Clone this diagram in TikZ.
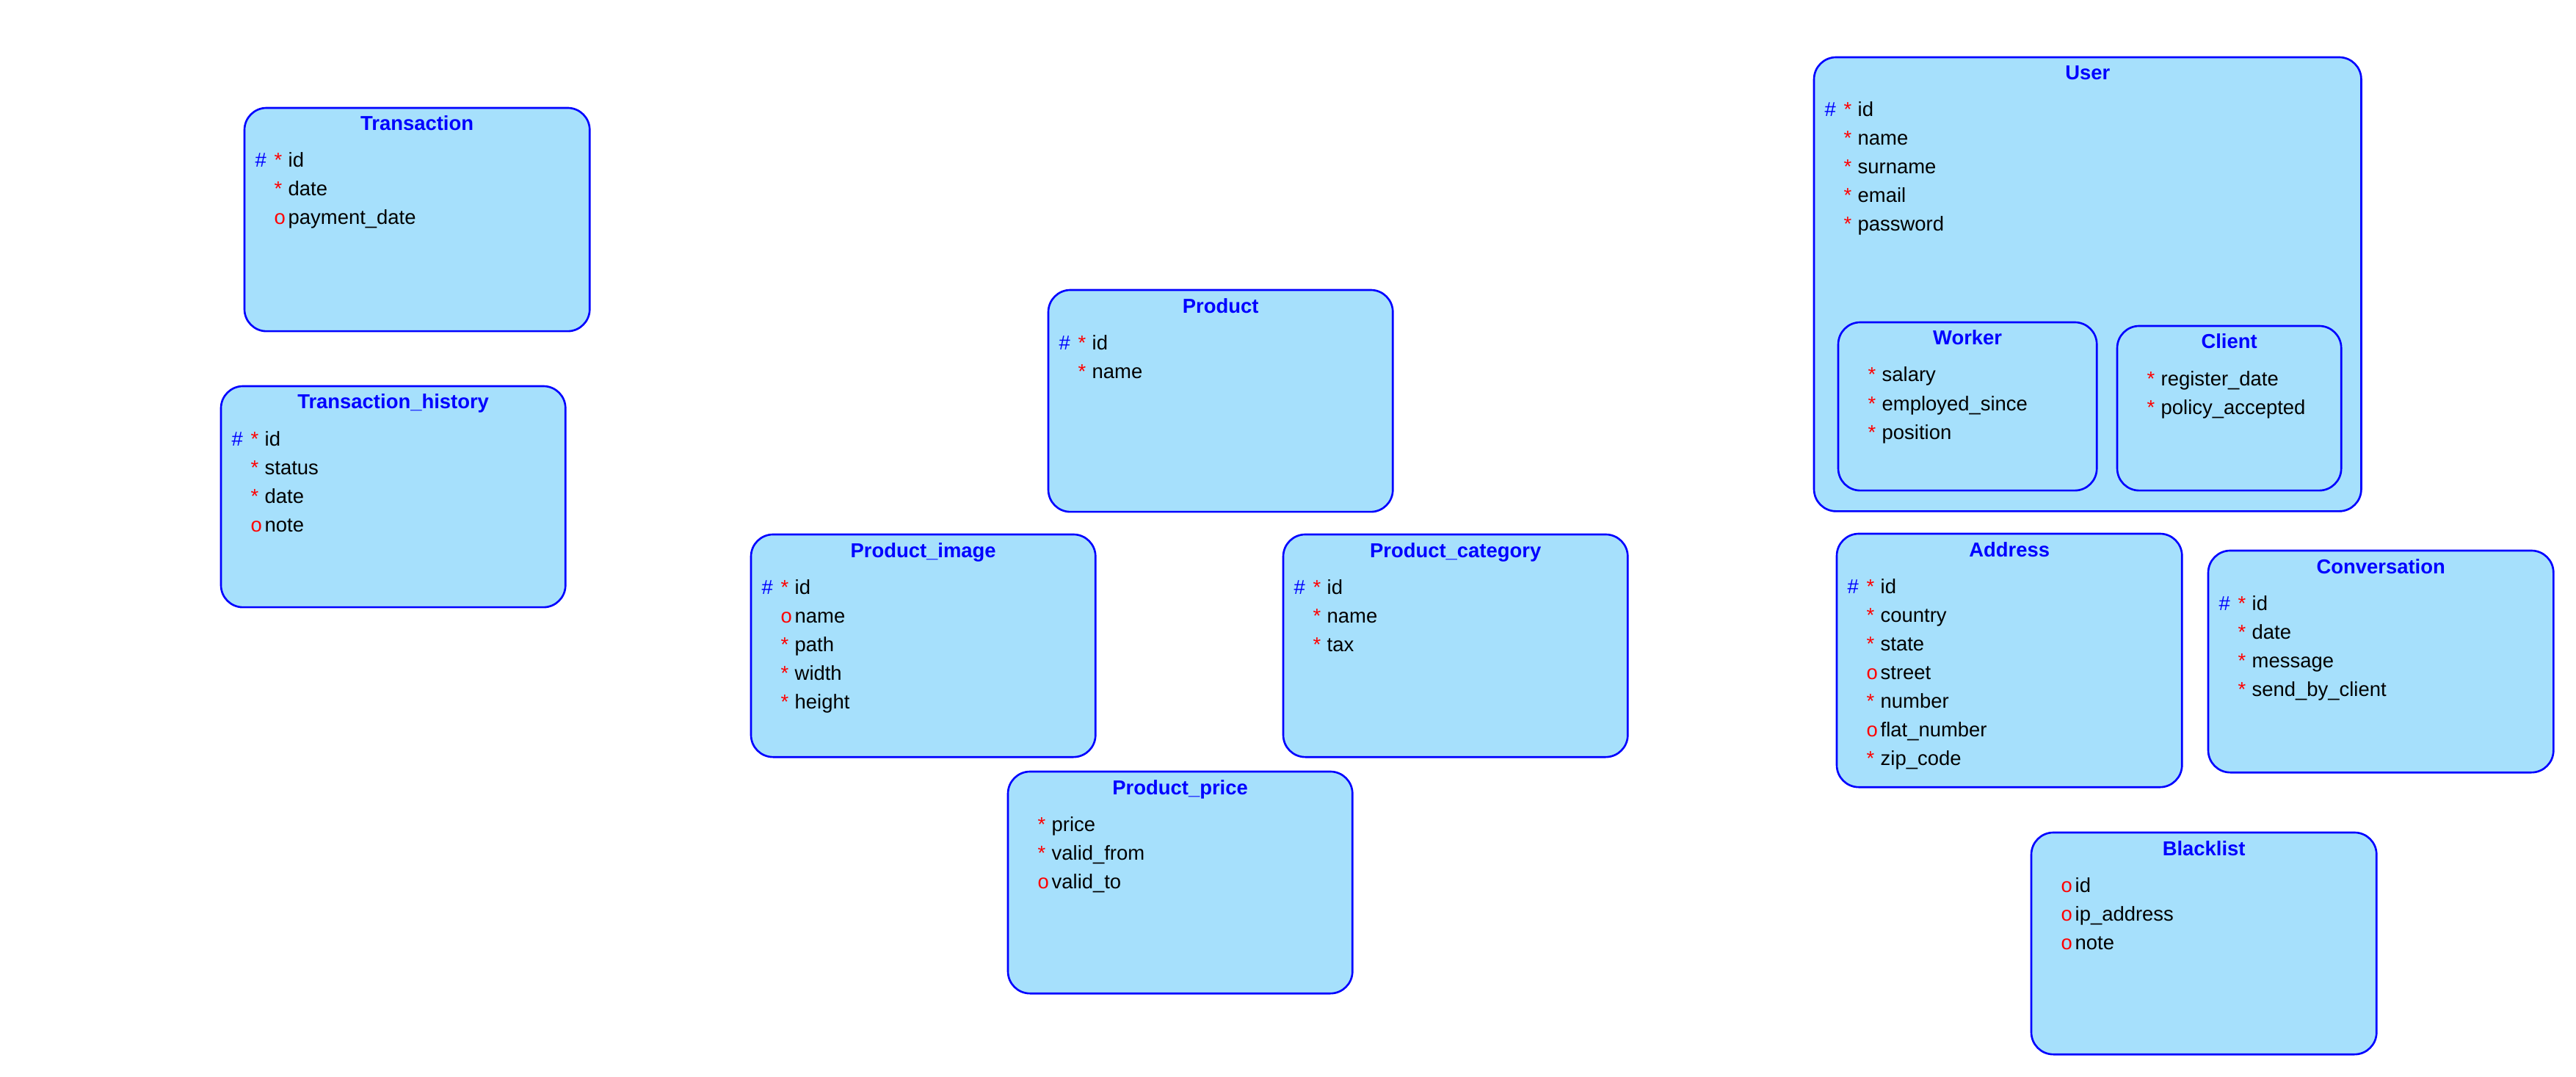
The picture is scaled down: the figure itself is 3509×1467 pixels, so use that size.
\documentclass[tikz,border=0pt]{standalone}
\usepackage{fontspec}
\setmainfont{Liberation Sans}
\usetikzlibrary{calc}
\definecolor{efill}{RGB}{166,224,252}
\definecolor{eblue}{RGB}{0,0,255}
\definecolor{ered}{RGB}{255,0,0}
\tikzset{
 ebox/.style={draw=eblue, fill=efill, line width=0.75pt, rounded corners=0.3cm, inner sep=0pt, outer sep=0pt},
 etitle/.style={text=eblue, font=\bfseries\fontsize{7.8pt}{9pt}\selectfont, inner sep=0pt, anchor=base},
 ftext/.style={text=black, font=\fontsize{7.8pt}{9pt}\selectfont, inner sep=0pt, anchor=base west},
 fhash/.style={ftext, text=eblue},
 fmark/.style={ftext, text=ered},
}
\newcommand\entity[6]{%
 \node[ebox, anchor=north west, minimum width=#4, minimum height=#5] (#1) at (#2,#3) {};
 \node[etitle] (#1-title) at ($(#1.north)+(0,31)$) {#6};}
\newcommand\pkrow[3]{%
 \node[fhash] (#1-h#2) at ($(#1.north west)+(14,{81+39*#2})$) {\#};
 \node[fmark] (#1-m#2) at ($(#1.north west)+(40,{81+39*#2})$) {*};
 \node[ftext] (#1-f#2) at ($(#1.north west)+(59,{81+39*#2})$) {#3};}
\newcommand\reqrow[3]{%
 \node[fmark] (#1-m#2) at ($(#1.north west)+(40,{81+39*#2})$) {*};
 \node[ftext] (#1-f#2) at ($(#1.north west)+(59,{81+39*#2})$) {#3};}
\newcommand\optrow[3]{%
 \node[fmark] (#1-m#2) at ($(#1.north west)+(40,{81+39*#2})$) {o};
 \node[ftext] (#1-f#2) at ($(#1.north west)+(59,{81+39*#2})$) {#3};}
\begin{document}
\begin{tikzpicture}[x=0.01cm, y=-0.01cm]
\useasboundingbox (0,0) rectangle (3509,1467);
% Transaction
\entity{tr}{333}{147}{4.70cm}{3.04cm}{Transaction}
\pkrow{tr}{0}{id}
\reqrow{tr}{1}{date}
\optrow{tr}{2}{payment\_date}
% Transaction_history
\entity{th}{301}{526}{4.69cm}{3.01cm}{Transaction\_history}
\pkrow{th}{0}{id}
\reqrow{th}{1}{status}
\reqrow{th}{2}{date}
\optrow{th}{3}{note}
% Product
\entity{pr}{1428}{395}{4.69cm}{3.02cm}{Product}
\pkrow{pr}{0}{id}
\reqrow{pr}{1}{name}
% Product_image
\entity{pi}{1023}{728}{4.69cm}{3.03cm}{Product\_image}
\pkrow{pi}{0}{id}
\optrow{pi}{1}{name}
\reqrow{pi}{2}{path}
\reqrow{pi}{3}{width}
\reqrow{pi}{4}{height}
% Product_category
\entity{pc}{1748}{728}{4.69cm}{3.03cm}{Product\_category}
\pkrow{pc}{0}{id}
\reqrow{pc}{1}{name}
\reqrow{pc}{2}{tax}
% Product_price
\entity{pp}{1373}{1051}{4.69cm}{3.02cm}{Product\_price}
\reqrow{pp}{0}{price}
\reqrow{pp}{1}{valid\_from}
\optrow{pp}{2}{valid\_to}
% User
\entity{us}{2471}{78}{7.45cm}{6.18cm}{User}
\pkrow{us}{0}{id}
\reqrow{us}{1}{name}
\reqrow{us}{2}{surname}
\reqrow{us}{3}{email}
\reqrow{us}{4}{password}
% Worker
\entity{wk}{2504}{439}{3.52cm}{2.29cm}{Worker}
\reqrow{wk}{0}{salary}
\reqrow{wk}{1}{employed\_since}
\reqrow{wk}{2}{position}
% Client
\entity{cl}{2884}{444}{3.05cm}{2.24cm}{Client}
\reqrow{cl}{0}{register\_date}
\reqrow{cl}{1}{policy\_accepted}
% Address
\entity{ad}{2502}{727}{4.70cm}{3.45cm}{Address}
\pkrow{ad}{0}{id}
\reqrow{ad}{1}{country}
\reqrow{ad}{2}{state}
\optrow{ad}{3}{street}
\reqrow{ad}{4}{number}
\optrow{ad}{5}{flat\_number}
\reqrow{ad}{6}{zip\_code}
% Conversation
\entity{cv}{3008}{750}{4.70cm}{3.02cm}{Conversation}
\pkrow{cv}{0}{id}
\reqrow{cv}{1}{date}
\reqrow{cv}{2}{message}
\reqrow{cv}{3}{send\_by\_client}
% Blacklist
\entity{bl}{2767}{1134}{4.70cm}{3.02cm}{Blacklist}
\optrow{bl}{0}{id}
\optrow{bl}{1}{ip\_address}
\optrow{bl}{2}{note}
\end{tikzpicture}
\end{document}
